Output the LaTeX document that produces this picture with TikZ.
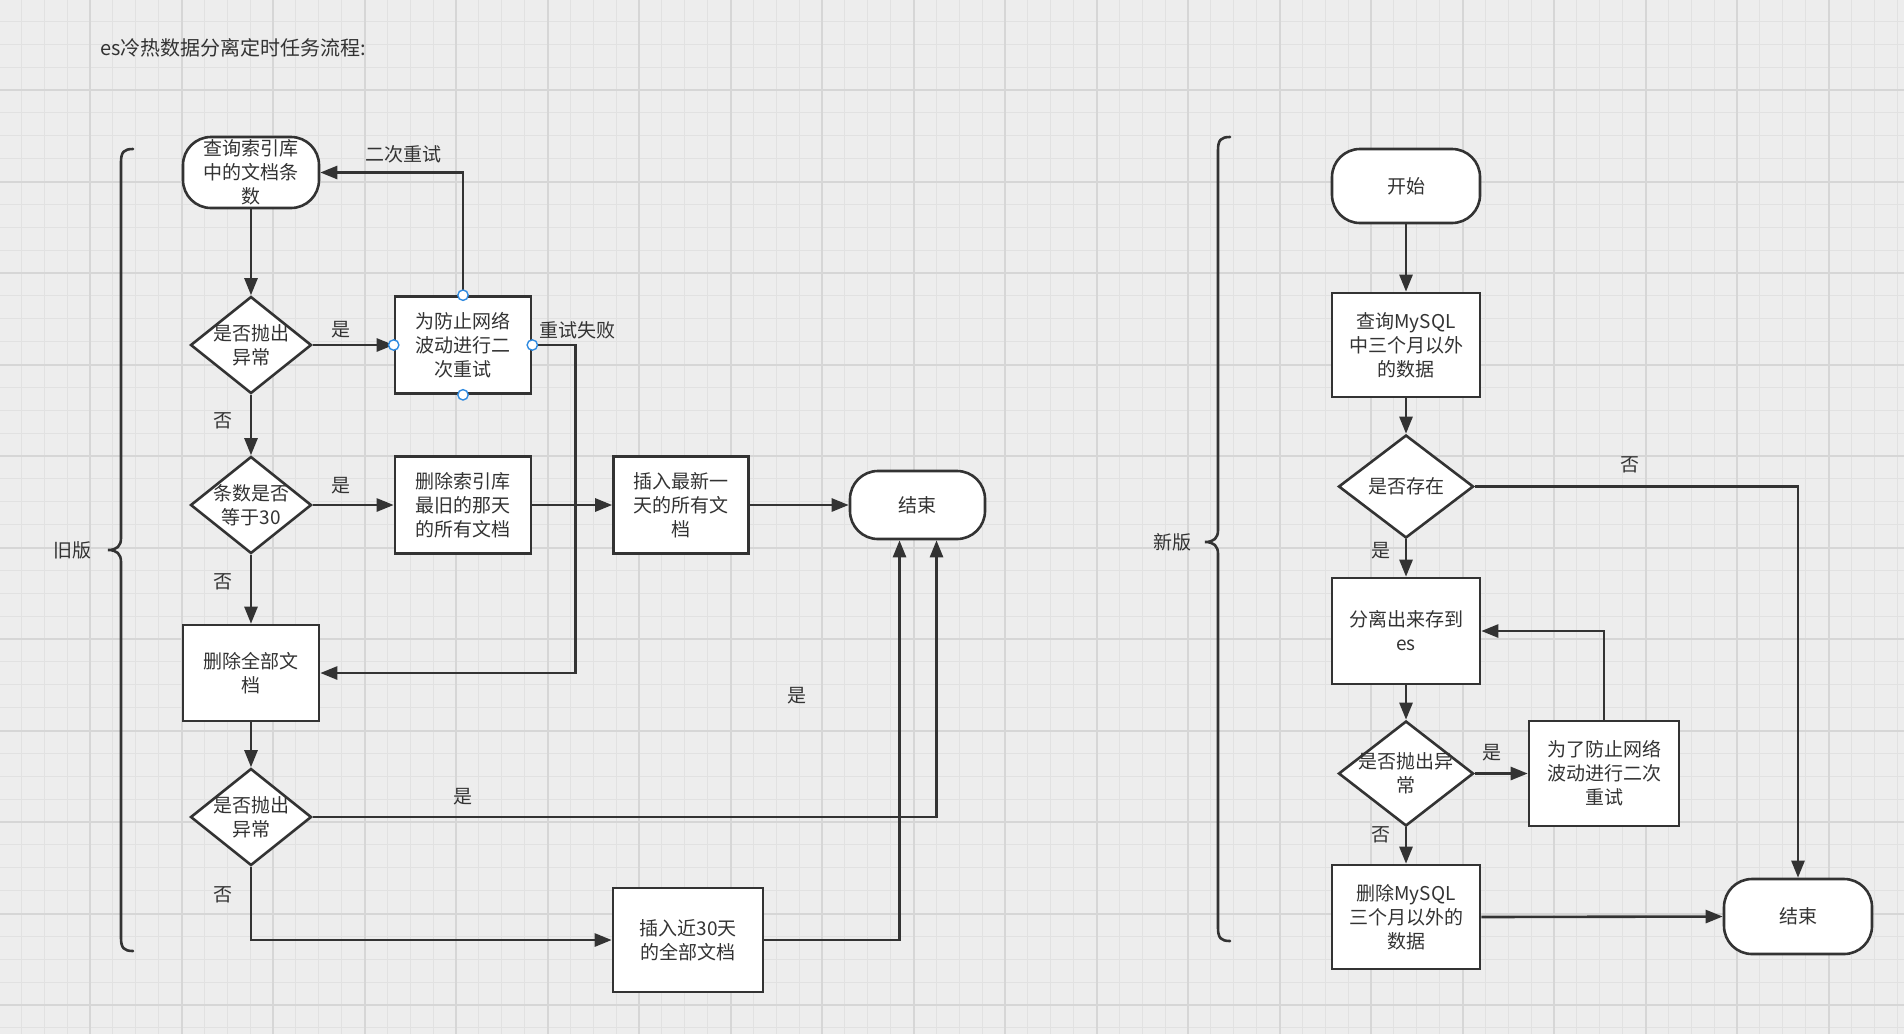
\documentclass[tikz,border=0pt]{standalone}
\usepackage{fontspec}
\setmainfont{Noto Sans CJK SC}
\usetikzlibrary{arrows.meta,shapes.geometric}
\definecolor{bgc}{HTML}{EDEDED}
\definecolor{gmin}{HTML}{E1E1E1}
\definecolor{gmaj}{HTML}{D6D6D6}
\definecolor{ink}{HTML}{333333}
\definecolor{txt}{HTML}{333333}
\definecolor{hblue}{HTML}{2F8AE0}
\begin{document}
\begin{tikzpicture}[x=0.5pt,y=-0.5pt,
  base/.style={draw=ink, line width=1.3pt, fill=white, text=txt,
    font=\fontsize{9.5pt}{12pt}\selectfont, align=center, inner sep=0pt},
  procbox/.style={base, rectangle},
  term/.style={base, rectangle, rounded corners=14pt},
  dia/.style={base, diamond},
  dtxt/.style={text=txt, font=\fontsize{9.5pt}{12pt}\selectfont, align=center, inner sep=0pt},
  lbl/.style={text=txt, font=\fontsize{9.5pt}{12pt}\selectfont, inner sep=0pt},
  conn/.style={draw=ink, line width=1.3pt, -{Triangle[length=8.5pt,width=6.5pt]}},
  plain/.style={draw=ink, line width=1.3pt},
  brace/.style={draw=ink, line width=1.3pt, line cap=round},
  handle/.style={draw=hblue, fill=white, line width=0.7pt}
]
% background and grid
\fill[bgc] (0,0) rectangle (1904,1034);
\useasboundingbox (0,0) rectangle (1904,1034);
\foreach \k in {-3,...,80} {
  \draw[gmin, line width=0.5pt] ({90+22.875*\k},0) -- ({90+22.875*\k},1034);
}
\foreach \k in {-3,...,42} {
  \draw[gmin, line width=0.5pt] (0,{90+22.875*\k}) -- (1904,{90+22.875*\k});
}
\foreach \k in {0,...,20} {
  \draw[gmaj, line width=1pt] ({-1.5+91.5*\k},0) -- ({-1.5+91.5*\k},1034);
}
\foreach \k in {0,...,11} {
  \draw[gmaj, line width=1pt] (0,{-1.5+91.5*\k}) -- (1904,{-1.5+91.5*\k});
}

% title
\node[lbl, anchor=west, font=\fontsize{10pt}{12pt}\selectfont] (title) at (100,48) {es冷热数据分离定时任务流程:};

% ================= old version =================
\draw[brace] (133,149) .. controls (124,149) and (121,152) .. (121,162) -- (121,538)
  .. controls (121,546) and (117,550) .. (108,550)
  .. controls (117,550) and (121,554) .. (121,562) -- (121,938)
  .. controls (121,948) and (124,951) .. (133,951);
\node[lbl] (oldlbl) at (73,550) {旧版};

\node[term, minimum width=68pt, minimum height=35.5pt] (n1) at (251,172.5) {查询索引库\\中的文档条\\数};
\node[dia, minimum width=60.5pt, minimum height=48.5pt,
  label={[dtxt]center:{是否抛出\\异常}}] (d1) at (251,345) {};
\node[procbox, minimum width=68pt, minimum height=48.5pt] (r1) at (463,345) {为防止网络\\波动进行二\\次重试};
\node[dia, minimum width=60.5pt, minimum height=48.5pt,
  label={[dtxt]center:{条数是否\\等于30}}] (d2) at (251,505) {};
\node[procbox, minimum width=68pt, minimum height=48.5pt] (b2) at (463,505) {删除索引库\\最旧的那天\\的所有文档};
\node[procbox, minimum width=67.5pt, minimum height=48.5pt] (b3) at (681,505) {插入最新一\\天的所有文\\档};
\node[term, minimum width=67.5pt, minimum height=34pt] (e1) at (917.5,505) {结束};
\node[procbox, minimum width=68pt, minimum height=48pt] (b4) at (251,673) {删除全部文\\档};
\node[dia, minimum width=60.5pt, minimum height=48.5pt,
  label={[dtxt]center:{是否抛出\\异常}}] (d3) at (251,817) {};
\node[procbox, minimum width=75pt, minimum height=52pt] (b5) at (688,940) {插入近30天\\的全部文档};

% connectors old
\draw[conn] (n1.south) -- (d1.north);
\draw[conn] (d1.east) -- (r1.west);
\draw[conn] (r1.north) |- (n1.east);
\draw[conn] (r1.east) -- ++(43,0) |- (b4.east);
\draw[conn] (d1.south) -- (d2.north);
\draw[conn] (d2.east) -- (b2.west);
\draw[conn] (b2.east) -- (b3.west);
\draw[conn] (b3.east) -- (e1.west);
\draw[conn] (d2.south) -- (b4.north);
\draw[conn] (b4.south) -- (d3.north);
\draw[conn] (d3.east) -| ([xshift=9.5pt]e1.south);
\draw[conn] (d3.south) |- (b5.west);
\draw[conn] (b5.east) -| ([xshift=-9pt]e1.south);

% handles on retry box
\draw[handle] (r1.north) circle (2.6pt);
\draw[handle] (r1.south) circle (2.6pt);
\draw[handle] (r1.west) circle (2.6pt);
\draw[handle] (r1.east) circle (2.6pt);

% labels old
\node[lbl] (l1) at (341,330) {是};
\node[lbl] (l2) at (403,154) {二次重试};
\node[lbl] (l3) at (577,330) {重试失败};
\node[lbl] (l4) at (223,421) {否};
\node[lbl] (l5) at (341,486) {是};
\node[lbl] (l6) at (223,582) {否};
\node[lbl] (l7) at (463,797) {是};
\node[lbl] (l8) at (797,696) {是};
\node[lbl] (l9) at (223,895) {否};

% ================= new version =================
\draw[brace] (1230,137) .. controls (1221,137) and (1218,140) .. (1218,150) -- (1218,530)
  .. controls (1218,538) and (1214,542) .. (1205,542)
  .. controls (1214,542) and (1218,546) .. (1218,554) -- (1218,928)
  .. controls (1218,938) and (1221,941) .. (1230,941);
\node[lbl] (newlbl) at (1172,542) {新版};

\node[term, minimum width=74pt, minimum height=37pt] (s) at (1406,186) {开始};
\node[procbox, minimum width=74pt, minimum height=52pt] (q) at (1406,345) {查询MySQL\\中三个月以外\\的数据};
\node[dia, minimum width=67.5pt, minimum height=51.5pt,
  label={[dtxt]center:{是否存在}}] (d4) at (1406,486.5) {};
\node[procbox, minimum width=74pt, minimum height=53pt] (es) at (1406,631) {分离出来存到\\es};
\node[dia, minimum width=67.5pt, minimum height=52.5pt,
  label={[dtxt]center:{是否抛出异\\常}}] (d5) at (1406,773.5) {};
\node[procbox, minimum width=75pt, minimum height=52.5pt] (rr) at (1604,773.5) {为了防止网络\\波动进行二次\\重试};
\node[procbox, minimum width=74pt, minimum height=52pt] (del) at (1406,917) {删除MySQL\\三个月以外的\\数据};
\node[term, minimum width=74pt, minimum height=37.5pt] (e2) at (1798,916.5) {结束};

% connectors new
\draw[conn] (s.south) -- (q.north);
\draw[conn] (q.south) -- (d4.north);
\draw[conn] (d4.east) -| (e2.north);
\draw[conn] (d4.south) -- (es.north);
\draw[conn] (es.south) -- (d5.north);
\draw[conn] (d5.east) -- (rr.west);
\draw[conn] (rr.north) |- (es.east);
\draw[conn] (d5.south) -- (del.north);
\draw[conn] (del.east) -- (e2.west);

% labels new
\node[lbl] (m1) at (1630,465) {否};
\node[lbl] (m2) at (1381,551) {是};
\node[lbl] (m3) at (1492,753) {是};
\node[lbl] (m4) at (1381,835) {否};
\end{tikzpicture}
\end{document}
